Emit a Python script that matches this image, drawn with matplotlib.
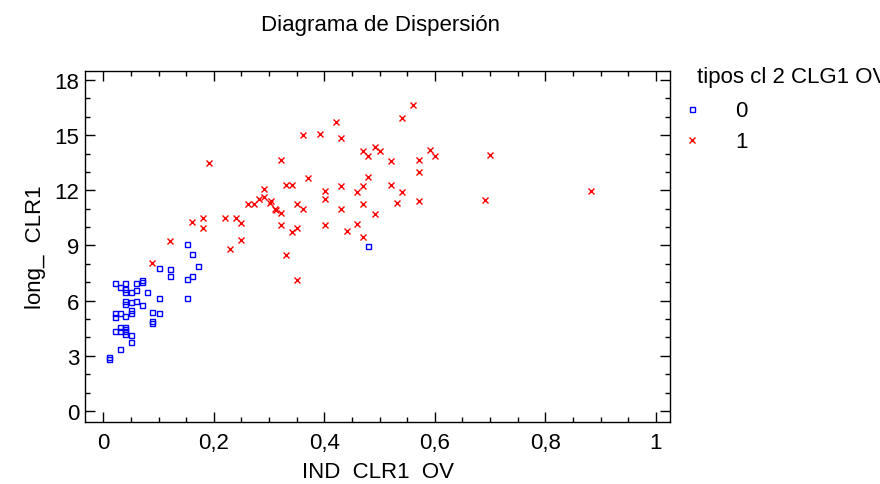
import matplotlib
matplotlib.use("Agg")
import matplotlib.pyplot as plt
from matplotlib.ticker import MultipleLocator, FuncFormatter
import numpy as np

plt.rcParams['font.family'] = ['Liberation Sans', 'DejaVu Sans']

# grupo 0 (cuadrados azules)
x0 = [0.151, 0.161, 0.100, 0.120, 0.171, 0.120, 0.151, 0.161, 0.021, 0.040,
      0.031, 0.060, 0.070, 0.070, 0.040, 0.040, 0.051, 0.060, 0.080, 0.100,
      0.151, 0.040, 0.040, 0.051, 0.060, 0.070, 0.051, 0.051, 0.021, 0.030,
      0.021, 0.040, 0.089, 0.100, 0.089, 0.089, 0.031, 0.040, 0.040, 0.040,
      0.031, 0.021, 0.051, 0.040, 0.051, 0.031, 0.010, 0.010, 0.480]
y0 = [9.09, 8.55, 7.78, 7.73, 7.86, 7.35, 7.18, 7.35, 6.93, 6.93,
      6.75, 6.98, 7.13, 7.00, 6.64, 6.48, 6.44, 6.58, 6.49, 6.15,
      6.15, 6.00, 5.82, 5.91, 5.96, 5.78, 5.51, 5.33, 5.33, 5.33,
      5.13, 5.18, 5.38, 5.33, 4.89, 4.80, 4.58, 4.58, 4.46, 4.36,
      4.33, 4.33, 4.11, 4.18, 3.75, 3.38, 2.91, 2.82, 8.98]

# grupo 1 (aspas rojas)
x1 = [0.089, 0.120, 0.191, 0.321, 0.330, 0.341, 0.291, 0.282, 0.291, 0.262,
      0.272, 0.301, 0.303, 0.310, 0.313, 0.321, 0.350, 0.361, 0.181, 0.161,
      0.181, 0.221, 0.241, 0.250, 0.321, 0.350, 0.341, 0.250, 0.230, 0.330,
      0.350, 0.561, 0.541, 0.421, 0.361, 0.392, 0.431, 0.491, 0.470, 0.480,
      0.501, 0.521, 0.571, 0.591, 0.601, 0.571, 0.371, 0.480, 0.430, 0.470,
      0.521, 0.401, 0.460, 0.541, 0.401, 0.470, 0.532, 0.571, 0.430, 0.491,
      0.401, 0.460, 0.441, 0.470, 0.700, 0.690, 0.882]
y1 = [8.02, 9.22, 13.49, 13.64, 12.29, 12.29, 12.06, 11.55, 11.64, 11.27,
      11.27, 11.33, 11.40, 11.00, 10.95, 10.78, 11.27, 11.00, 10.47, 10.27,
      9.93, 10.47, 10.47, 10.24, 10.13, 9.97, 9.75, 9.29, 8.80, 8.49,
      7.13, 16.64, 15.95, 15.69, 15.00, 15.07, 14.85, 14.36, 14.13, 13.87,
      14.13, 13.58, 13.67, 14.17, 13.87, 13.00, 12.69, 12.73, 12.24, 12.24,
      12.29, 11.96, 11.88, 11.88, 11.51, 11.27, 11.33, 11.42, 11.00, 10.73,
      10.13, 10.18, 9.78, 9.45, 13.91, 11.46, 11.97]

fig = plt.figure(figsize=(8.8, 4.85), dpi=100)
ax = fig.add_axes([0.0966, 0.128, 0.665, 0.724])

ax.plot(x0, y0, linestyle='none', marker='s', markersize=3.6, markerfacecolor='none',
        markeredgecolor='#0000ff', markeredgewidth=1.0, label='0')
ax.plot(x1, y1, linestyle='none', marker='x', markersize=4.2, color='#ff0000',
        markeredgewidth=1.0, label='1')

ax.set_xlim(-0.033, 1.026)
ax.set_ylim(-0.6, 18.5)
ax.xaxis.set_major_locator(MultipleLocator(0.2))
ax.xaxis.set_minor_locator(MultipleLocator(0.05))
ax.yaxis.set_major_locator(MultipleLocator(3))
ax.yaxis.set_minor_locator(MultipleLocator(1))
ax.xaxis.set_major_formatter(FuncFormatter(lambda v, p: ('%g' % round(v, 2)).replace('.', ',')))
ax.tick_params(which='both', direction='in', top=True, right=True, width=1.0, labelsize=16)
ax.tick_params(which='major', length=7)
ax.tick_params(which='minor', length=3.5)
ax.tick_params(axis='x', which='major', pad=7)
ax.tick_params(axis='y', which='major', pad=4)
for s in ax.spines.values():
    s.set_linewidth(1.0)

ax.set_xlabel('IND  CLR1  OV', fontsize=16, labelpad=6)
ax.set_ylabel('long_  CLR1', fontsize=16, labelpad=6)
fig.text(0.432, 0.947, 'Diagrama de Dispersión', fontsize=16, ha='center', va='center')

# titulo de la leyenda (cortado por el borde, como en el original)
fig.text(697 / 880, 1 - 78 / 485, 'tipos cl 2 CLG1 OV', fontsize=16, ha='left', va='center')
leg = ax.legend(loc='upper left', bbox_to_anchor=(0.7625, 0.823), bbox_transform=fig.transFigure,
                frameon=False, fontsize=16, handlelength=0.5, handletextpad=1.7,
                labelspacing=0.45, borderpad=0.2)

fig.savefig('out.png', dpi=100)
